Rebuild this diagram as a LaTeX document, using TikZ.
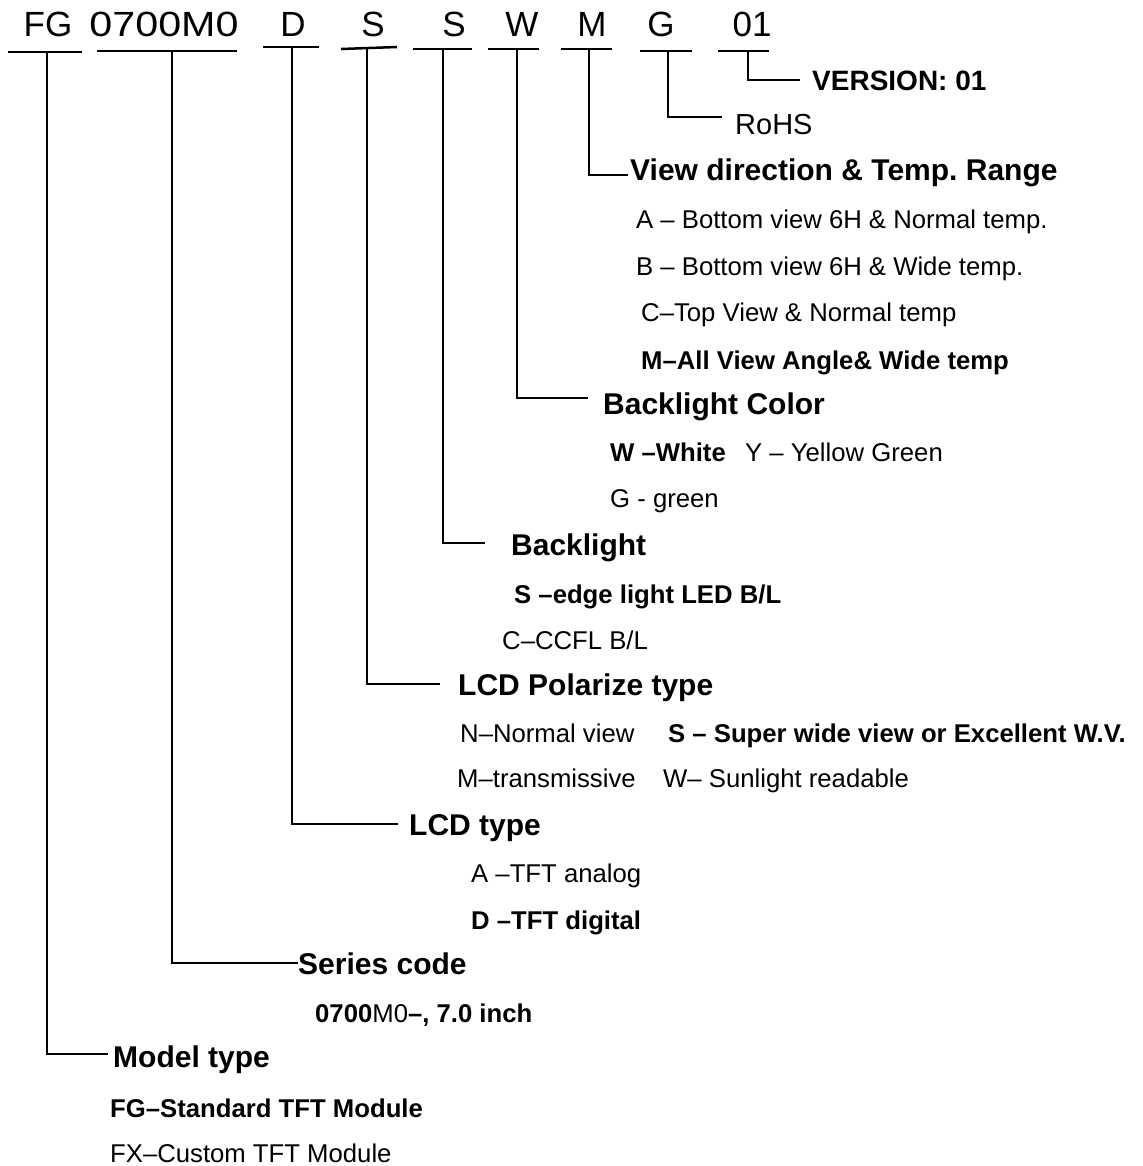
\documentclass[tikz,border=0pt]{standalone}
\usepackage{fontspec}
\setmainfont{Liberation Sans}
\frenchspacing
\tikzset{
  code/.style={anchor=base, inner sep=0pt, font=\fontsize{35bp}{40bp}\selectfont},
  head/.style={anchor=base west, inner sep=0pt, font=\fontsize{30bp}{36bp}\selectfont\bfseries},
  opt/.style={anchor=base west, inner sep=0pt, font=\fontsize{25.7bp}{30bp}\selectfont},
  optb/.style={anchor=base west, inner sep=0pt, font=\fontsize{25.7bp}{30bp}\selectfont\bfseries},
  uline/.style={line width=2.5bp},
  conn/.style={line width=2bp},
}
\begin{document}
\begin{tikzpicture}[x=1bp,y=-1bp]
\useasboundingbox (0,0) rectangle (1143,1166);
% code letters
\node[code] (cFG) at (48,36) {FG};
\node[code] (cSer) at (164,36) {\scalebox{1.18}[1]{0700M0}};
\node[code] (cD) at (293,36) {D};
\node[code] (cS1) at (373,36) {S};
\node[code] (cS2) at (454,36) {S};
\node[code] (cW) at (522,36) {W};
\node[code] (cM) at (592,36) {M};
\node[code] (cG) at (661,36) {G};
\node[code] (cV) at (752,36) {01};
% underline coordinates
\coordinate (aFG) at (8,52);   \coordinate (bFG) at (82,52);   \coordinate (vFG) at (47,52);
\coordinate (aSer) at (97,51); \coordinate (bSer) at (237,51); \coordinate (vSer) at (172,51);
\coordinate (aD) at (263,47);  \coordinate (bD) at (319,47);   \coordinate (vD) at (292,47);
\coordinate (aS1) at (341,49); \coordinate (bS1) at (397,47);  \coordinate (vS1) at (367,48);
\coordinate (aS2) at (413,49); \coordinate (bS2) at (472,49);  \coordinate (vS2) at (443,49);
\coordinate (aW) at (488,49);  \coordinate (bW) at (539,49);   \coordinate (vW) at (517,49);
\coordinate (aM) at (561,49);  \coordinate (bM) at (612,49);   \coordinate (vM) at (589,49);
\coordinate (aG) at (640,51);  \coordinate (bG) at (692,51);   \coordinate (vG) at (668,51);
\coordinate (aV) at (718,51);  \coordinate (bV) at (769,51);   \coordinate (vV) at (748,51);
\foreach \n in {FG,Ser,D,S1,S2,W,M,G,V} {\draw[uline] (a\n) -- (b\n);}
% elbow ends
\coordinate (eV) at (800,80);
\coordinate (eG) at (722,117);
\coordinate (eM) at (628,175);
\coordinate (eW) at (588,398);
\coordinate (eS2) at (485,543);
\coordinate (eS1) at (440,684);
\coordinate (eD) at (398,824);
\coordinate (eSer) at (298,963);
\coordinate (eFG) at (108,1054);
\foreach \n in {FG,Ser,D,S1,S2,W,M,G,V} {\draw[conn] (v\n) |- (e\n);}
% headings
\node[head, font=\fontsize{28bp}{32bp}\selectfont\bfseries] (hV) at (812,90) {VERSION: 01};
\node[opt, font=\fontsize{29bp}{34bp}\selectfont] (hG) at (735,134) {RoHS};
\node[head] (hM) at (630,180) {View direction \& Temp. Range};
\node[head] (hW) at (603,414) {Backlight Color};
\node[head] (hS2) at (511,555) {Backlight};
\node[head] (hS1) at (458,695) {LCD Polarize type};
\node[head] (hD) at (409,835) {LCD type};
\node[head] (hSer) at (298,974) {Series code};
\node[head] (hFG) at (113,1067) {Model type};
% options
\node[opt] (oM1) at (636,228) {A – Bottom view 6H \& Normal temp.};
\node[opt] (oM2) at (636,275) {B – Bottom view 6H \& Wide temp.};
\node[opt] (oM3) at (641,321) {C–Top View \& Normal temp};
\node[optb] (oM4) at (641,369) {M–All View Angle\& Wide temp};
\node[optb] (oW1) at (610,461) {W –White};
\node[opt] (oW2) at (745,461) {Y – Yellow Green};
\node[opt] (oW3) at (610,507) {G - green};
\node[optb] (oS21) at (514,603) {S –edge light LED B/L};
\node[opt] (oS22) at (502,649) {C–CCFL B/L};
\node[opt] (oS11) at (460,742) {N–Normal view};
\node[optb] (oS12) at (668,742) {S – Super wide view or Excellent W.V.};
\node[opt] (oS13) at (457,787) {M–transmissive};
\node[opt] (oS14) at (663,787) {W– Sunlight readable};
\node[opt] (oD1) at (471,882) {A –TFT analog};
\node[optb] (oD2) at (471,929) {D –TFT digital};
\node[opt] (oSer) at (315,1022) {{\bfseries 0700}M0{\bfseries –, 7.0 inch}};
\node[optb] (oFG1) at (110,1117) {FG–Standard TFT Module};
\node[opt] (oFG2) at (110,1162) {FX–Custom TFT Module};
\end{tikzpicture}
\end{document}
